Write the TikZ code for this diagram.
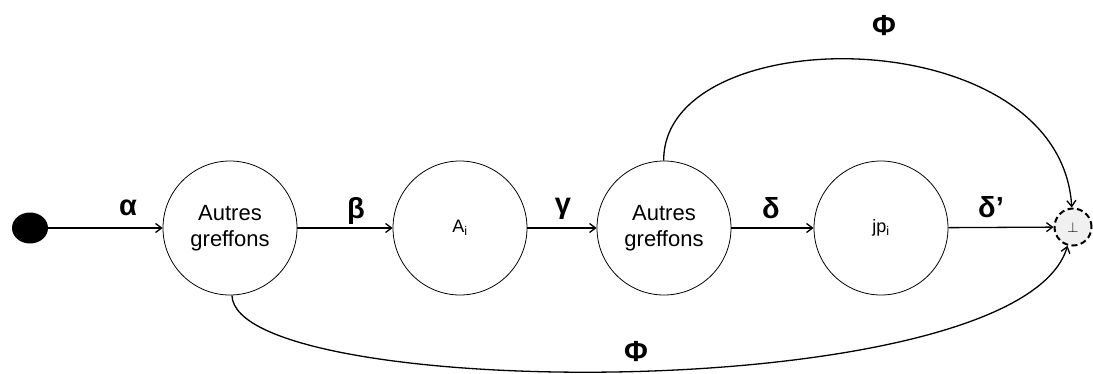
\documentclass[tikz,border=0pt]{standalone}
\usepackage{fontspec}
\setmainfont{Liberation Sans}
\usetikzlibrary{arrows.meta,shapes.geometric}

\begin{document}
\begin{tikzpicture}[x=1pt, y=-1pt,
    state/.style={draw, circle, line width=0.8pt, minimum size=134pt, inner sep=0pt, align=center, font=\fontsize{22}{26}\selectfont},
    edge/.style={line width=1.3pt, -{Straight Barb[length=6pt,width=9pt]}},
    lbl/.style={font=\fontsize{29}{30}\selectfont\bfseries}]
    \useasboundingbox (0, 0) rectangle (1093, 373);
    \node[ellipse, fill=black, minimum width=36pt, minimum height=31pt, inner sep=0pt] (init) at (30, 228) {};
    \node[state] (g1) at (230, 228) {Autres\\greffons};
    \node[state, font=\fontsize{18}{20}\selectfont] (ai) at (460, 228) {A\textsubscript{i}};
    \node[state] (g2) at (664, 228) {Autres\\greffons};
    \node[state, font=\fontsize{18}{20}\selectfont] (jp) at (881, 228) {jp\textsubscript{i}};
    \node[circle, draw, dash pattern=on 6pt off 3.5pt, line width=2pt, fill=black!6, minimum size=37pt, inner sep=0pt] (fin) at (1073, 227) {\fontsize{14}{14}\selectfont$\perp$};
    \draw[edge] (init) -- (g1);
    \draw[edge] (g1) -- (ai);
    \draw[edge] (ai) -- (g2);
    \draw[edge] (g2) -- (jp);
    \draw[edge] (jp) -- (fin);
    \draw[edge] (g2) .. controls (663, 18) and (1060, 18) .. (fin);
    \draw[edge] (g1) .. controls (235, 402) and (1020, 408) .. (fin);
    \node[lbl] (la) at (128, 208) {α};
    \node[lbl] (lb) at (356, 211) {β};
    \node[lbl] (lc) at (563, 209) {γ};
    \node[lbl] (ld) at (771, 208) {δ};
    \node[lbl] (le) at (991, 207) {δ’};
    \node[lbl] (lf) at (884, 26) {Φ};
    \node[lbl] (lg) at (636, 352) {Φ};
\end{tikzpicture}
\end{document}
